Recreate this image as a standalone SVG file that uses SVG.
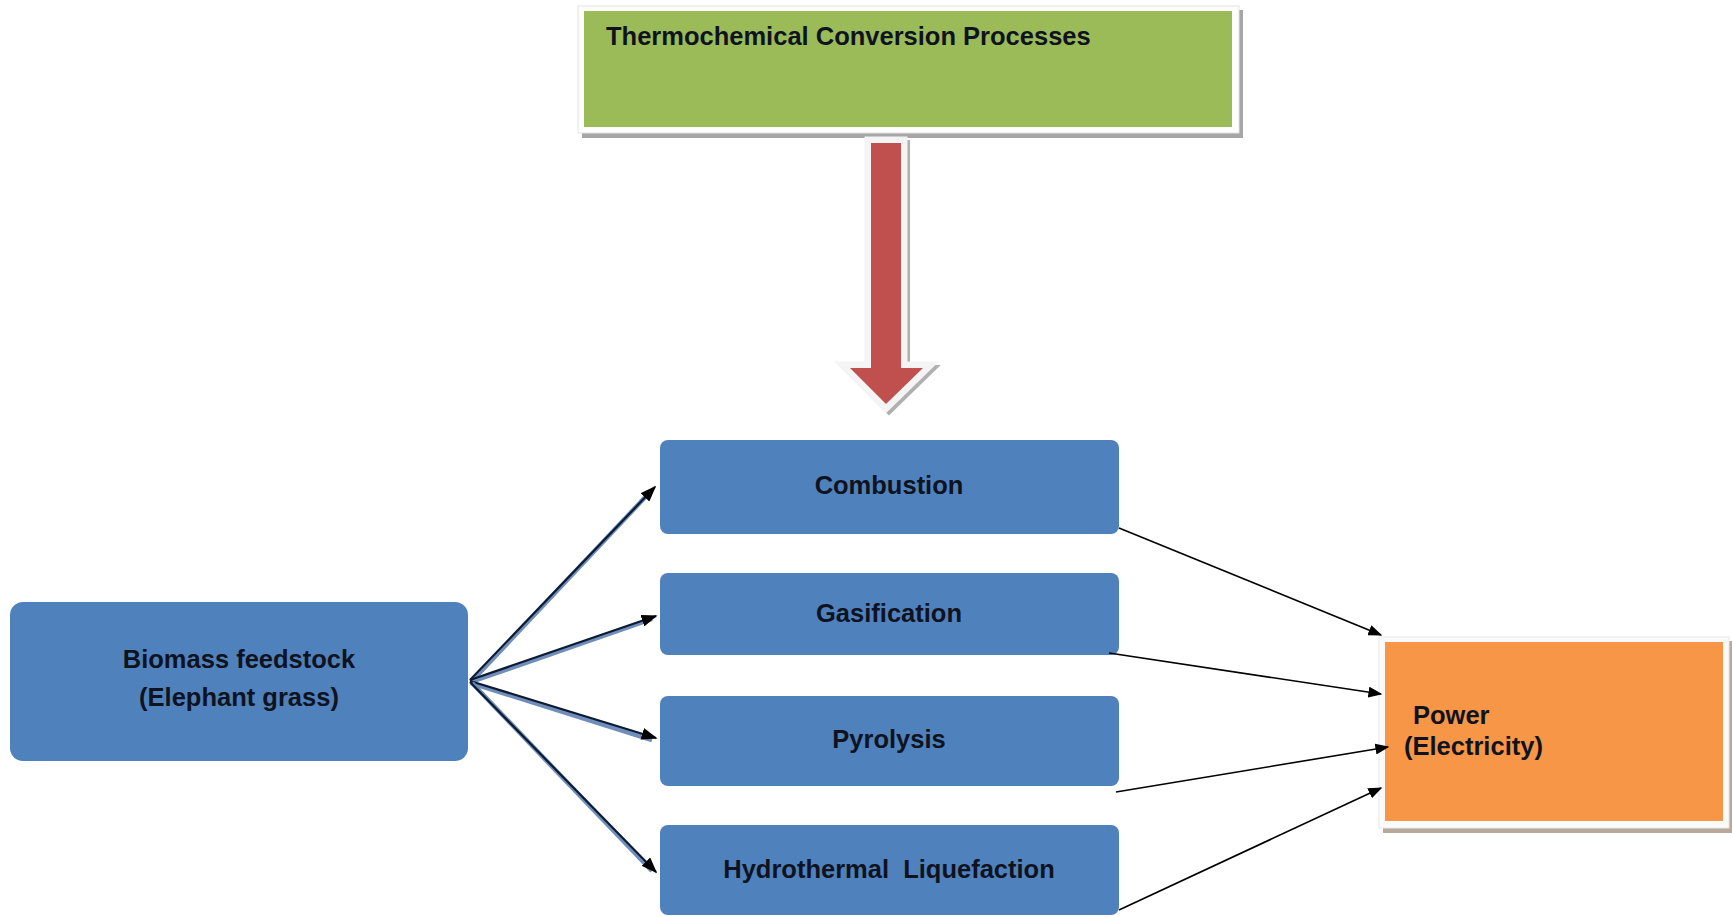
<svg xmlns="http://www.w3.org/2000/svg" width="1732" height="917" viewBox="0 0 1732 917">
<style>
.lbl{font-family:"Liberation Sans",Arial,sans-serif;font-weight:bold;font-size:25.5px;fill:#0f1320}
.mid{text-anchor:middle}
.blue{fill:#4f81bd}
.thin{stroke:#000;stroke-width:1.6;fill:none;marker-end:url(#ah)}
.thickBg{stroke:#6f8fba;stroke-width:4.5;fill:none}
.thick{stroke:#0d1a33;stroke-width:2.2;fill:none;marker-end:url(#ah2)}
</style>
<defs>
<marker id="ah" viewBox="0 0 10 10" refX="9" refY="5" markerWidth="14" markerHeight="11" markerUnits="userSpaceOnUse" orient="auto" preserveAspectRatio="none">
<path d="M0,0 L10,5 L0,10 z" fill="#000"/>
</marker>
<marker id="ah2" viewBox="0 0 10 10" refX="9" refY="5" markerWidth="16" markerHeight="12" markerUnits="userSpaceOnUse" orient="auto" preserveAspectRatio="none">
<path d="M0,0 L10,5 L0,10 z" fill="#000"/>
</marker>
</defs>
<rect width="1732" height="917" fill="#ffffff"/>

<g id="thermochemical">
<rect x="582" y="10" width="661" height="128" fill="#a6a6a6"/>
<rect x="578" y="6" width="661" height="127" fill="#fdfdfd" stroke="#e4e4e4" stroke-width="1"/>
<rect x="584" y="11" width="648" height="116" fill="#9bbb59"/>
<text class="lbl" x="606" y="45">Thermochemical Conversion Processes</text>
</g>

<g id="red-arrow">
<polygon points="874,146 904,146 904,371 926,371 889,407 853,371 874,371" fill="#b0b0b0" stroke="#b0b0b0" stroke-width="12" stroke-linejoin="miter"/>
<polygon points="871,143 901,143 901,368 923,368 886,404 850,368 871,368" fill="#fafafa" stroke="#f4f4f4" stroke-width="13" stroke-linejoin="miter"/>
<polygon points="871,143 901,143 901,368 923,368 886,404 850,368 871,368" fill="#c0504d"/>
</g>

<g id="biomass">
<rect x="10" y="602" width="458" height="159" rx="13" class="blue"/>
<text class="lbl mid" x="239" y="668">Biomass feedstock</text>
<text class="lbl mid" x="239" y="706">(Elephant grass)</text>
</g>

<g id="combustion">
<rect x="660" y="440" width="459" height="94" rx="8" class="blue"/>
<text class="lbl mid" x="889" y="494">Combustion</text>
</g>
<g id="gasification">
<rect x="660" y="573" width="459" height="82" rx="8" class="blue"/>
<text class="lbl mid" x="889" y="622">Gasification</text>
</g>
<g id="pyrolysis">
<rect x="660" y="696" width="459" height="90" rx="8" class="blue"/>
<text class="lbl mid" x="889" y="748">Pyrolysis</text>
</g>
<g id="hydrothermal">
<rect x="660" y="825" width="459" height="90" rx="8" class="blue"/>
<text class="lbl mid" x="889" y="878" xml:space="preserve">Hydrothermal  Liquefaction</text>
</g>

<g id="power">
<rect x="1383" y="641" width="349" height="192" fill="#b8a99a"/>
<rect x="1379" y="637" width="350" height="191" fill="#fbfbfb" stroke="#e8e8e8" stroke-width="1"/>
<rect x="1385" y="642" width="338" height="179" fill="#f79646"/>
<text class="lbl" x="1413" y="724">Power</text>
<text class="lbl" x="1404" y="755">(Electricity)</text>
</g>

<g id="connectors">
<line class="thickBg" x1="471" y1="682" x2="651" y2="491"/>
<line class="thick" x1="470" y1="680" x2="655" y2="487"/>
<line class="thickBg" x1="471" y1="682" x2="652" y2="619"/>
<line class="thick" x1="470" y1="680" x2="656" y2="616"/>
<line class="thickBg" x1="471" y1="683" x2="652" y2="740"/>
<line class="thick" x1="470" y1="681" x2="656" y2="738"/>
<line class="thickBg" x1="472" y1="683" x2="652" y2="871"/>
<line class="thick" x1="470" y1="682" x2="656" y2="872"/>

<line class="thin" x1="1119" y1="528" x2="1381" y2="635"/>
<line class="thin" x1="1109" y1="653" x2="1381" y2="694"/>
<line class="thin" x1="1116" y1="792" x2="1388" y2="747"/>
<line class="thin" x1="1119" y1="910" x2="1381" y2="788"/>
</g>
</svg>
